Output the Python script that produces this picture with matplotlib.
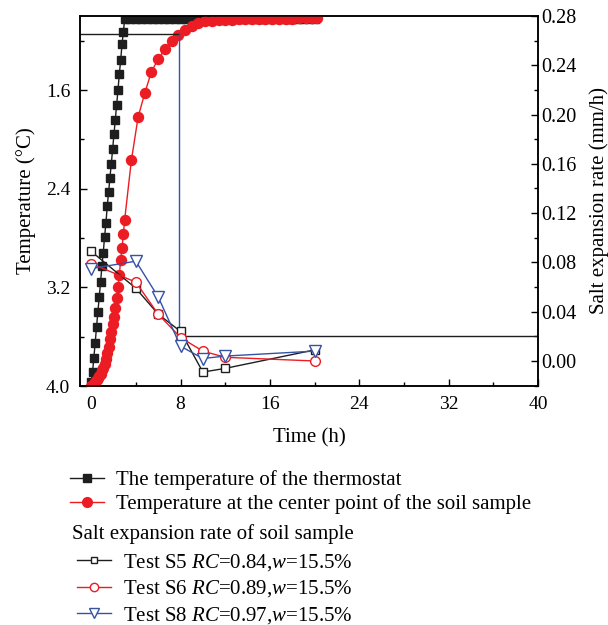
import matplotlib
matplotlib.use("Agg")
import matplotlib.pyplot as plt
from matplotlib.ticker import MultipleLocator, FormatStrFormatter
from matplotlib.lines import Line2D

plt.rcParams["font.family"] = ["Liberation Serif", "DejaVu Serif"]
plt.rcParams["mathtext.fontset"] = "custom"
plt.rcParams["mathtext.rm"] = "Liberation Serif"
plt.rcParams["mathtext.it"] = "Liberation Serif:italic"

# thermostat temperature (left axis, inverted)
t_thermo = [0.0, 0.12, 0.24, 0.36, 0.48, 0.6, 0.72, 0.84, 0.96, 1.08, 1.2, 1.32,
            1.44, 1.56, 1.68, 1.8, 1.92, 2.04, 2.16, 2.28, 2.4, 2.52, 2.64, 2.76,
            2.88, 3.0, 3.5, 4.0, 4.5, 5.0, 5.5, 6.0, 6.5, 7.0, 7.5, 8.0, 8.5, 9.0,
            9.5, 10.0, 10.5, 11.0, 11.5, 12.0, 12.5, 13.0, 13.5, 14.0, 14.5, 15.0,
            15.5, 16.0, 16.5, 17.0, 17.5, 18.0, 18.5, 19.0, 19.5, 20.0]
T_thermo = [3.97, 3.89, 3.77, 3.65, 3.52, 3.40, 3.28, 3.16, 3.03, 2.92, 2.79, 2.68,
            2.54, 2.43, 2.31, 2.20, 2.08, 1.96, 1.84, 1.72, 1.60, 1.47, 1.36, 1.23,
            1.13, 1.025, 1.023, 1.023, 1.023, 1.023, 1.023, 1.023, 1.023, 1.023,
            1.023, 1.023, 1.023, 1.023, 1.023, 1.023, 1.023, 1.023, 1.023, 1.023,
            1.023, 1.023, 1.023, 1.023, 1.023, 1.023, 1.023, 1.023, 1.023, 1.023,
            1.023, 1.023, 1.023, 1.023, 1.023, 1.023]

# temperature at the center point of the soil sample
t_center = [0.0, 0.12, 0.24, 0.36, 0.48, 0.6, 0.72, 0.84, 0.96, 1.08, 1.2, 1.32,
            1.44, 1.56, 1.68, 1.8, 1.92, 2.04, 2.16, 2.28, 2.4, 2.52, 2.64, 2.76,
            2.88, 3.0, 3.6, 4.2, 4.8, 5.4, 6.0, 6.6, 7.2, 7.8, 8.4, 9.0, 9.6, 10.2,
            10.8, 11.4, 12.0, 12.6, 13.2, 13.8, 14.4, 15.0, 15.6, 16.2, 16.8, 17.4,
            18.0, 18.6, 19.2, 19.8, 20.2]
T_center = [4.0, 3.99, 3.98, 3.965, 3.95, 3.935, 3.92, 3.90, 3.87, 3.85, 3.82, 3.78,
            3.73, 3.68, 3.62, 3.56, 3.50, 3.44, 3.37, 3.29, 3.20, 3.10, 2.98, 2.88,
            2.77, 2.65, 2.17, 1.82, 1.625, 1.45, 1.35, 1.27, 1.205, 1.15, 1.11, 1.08,
            1.057, 1.044, 1.038, 1.034, 1.031, 1.029, 1.027, 1.026, 1.025, 1.024,
            1.023, 1.022, 1.022, 1.021, 1.021, 1.02, 1.02, 1.02, 1.02]

# salt expansion rate (right axis)
t_salt = [0, 4, 6, 8, 10, 12, 20]
rate_s5 = [0.089, 0.059, 0.038, 0.024, -0.009, -0.006, 0.009]
rate_s6 = [0.079, 0.064, 0.038, 0.019, 0.008, 0.003, 0.0]
rate_s8 = [0.075, 0.081, 0.052, 0.012, 0.002, 0.004, 0.008]

# guide lines drawn in the original figure
guide_x = 7.9
guide_top = 0.265
guide_low = 0.02

black = "#1e1e1e"
red = "#ec1c24"
blue = "#3552a5"

fig = plt.figure(figsize=(6.08, 6.25), dpi=100)
ax = fig.add_axes([80 / 608, 1 - 386 / 625, 458 / 608, 370 / 625])
ax2 = ax.twinx()

ax.plot(t_thermo, T_thermo, "-s", color=black, ms=5.2, lw=1, zorder=2)
ax.plot(t_center, T_center, "-o", color=red, ms=7.2, lw=1, zorder=3)

ax2.plot([-1, guide_x], [guide_top, guide_top], color=black, lw=1)
ax2.plot([guide_x, guide_x], [guide_low, guide_top], color=blue, lw=1)
ax2.plot([guide_x, 40], [guide_low, guide_low], color=black, lw=1)

ax2.plot(t_salt, rate_s5, "-s", color=black, mfc="white", ms=6, mew=1, lw=1)
ax2.plot(t_salt, rate_s6, "-o", color=red, mfc="white", ms=7, mew=1, lw=1)
ax2.plot(t_salt, rate_s8, "-v", color=blue, mfc="white", ms=8, mew=1, lw=1)

ax.set_xlim(-1, 40)
ax.set_ylim(4.0, 1.0)
ax2.set_ylim(-0.0203, 0.28)

ax.xaxis.set_major_locator(MultipleLocator(8))
ax.xaxis.set_minor_locator(MultipleLocator(4))
ax.set_yticks([1.6, 2.4, 3.2, 4.0])
ax.yaxis.set_minor_locator(MultipleLocator(0.4))
ax.yaxis.set_major_formatter(FormatStrFormatter("%.1f"))
ax2.set_yticks([0.0, 0.04, 0.08, 0.12, 0.16, 0.20, 0.24, 0.28])
ax2.yaxis.set_minor_locator(MultipleLocator(0.02))
ax2.yaxis.set_major_formatter(FormatStrFormatter("%.2f"))

for a in (ax, ax2):
    a.tick_params(which="both", direction="in", labelsize=14, width=1)
    a.tick_params(which="major", length=5)
    a.tick_params(which="minor", length=3)
    for s in a.spines.values():
        s.set_linewidth(1.1)
ax.tick_params(axis="y", pad=7)
ax.tick_params(axis="x", pad=7)
ax2.tick_params(axis="y", pad=2, labelsize=14.5)

ax.set_xlabel("Time (h)", fontsize=15)
ax.xaxis.set_label_coords(0.5, -0.115)
ax.set_ylabel("Temperature (°C)", fontsize=15, va="center")
ax.yaxis.set_label_coords(-0.118, 0.5)
ax2.set_ylabel("Salt expansion rate (mm/h)", fontsize=15, va="center")
ax2.yaxis.set_label_coords(1.134, 0.5)

h1 = [Line2D([], [], color=black, marker="s", ms=5.2, lw=1),
      Line2D([], [], color=red, marker="o", ms=7, lw=1)]
fig.legend(h1, ["The temperature of the thermostat",
                "Temperature at the center point of the soil sample"],
           loc="upper left", bbox_to_anchor=(70 / 608, 1 - 470 / 625),
           frameon=False, fontsize=15, handlelength=1.65,
           handletextpad=0.55, labelspacing=0.2, borderpad=0,
           borderaxespad=0)
fig.text(72 / 608, 1 - 534 / 625, "Salt expansion rate of soil sample",
         fontsize=15, va="center", ha="left")
h2 = [Line2D([], [], color=black, marker="s", mfc="white", ms=5, lw=1),
      Line2D([], [], color=red, marker="o", mfc="white", ms=6, lw=1),
      Line2D([], [], color=blue, marker="v", mfc="white", ms=6.5, lw=1)]
fig.legend(h2, ["Test S5 $RC$=0.84,$w$=15.5%",
                "Test S6 $RC$=0.89,$w$=15.5%",
                "Test S8 $RC$=0.97,$w$=15.5%"],
           loc="upper left", bbox_to_anchor=(77 / 608, 1 - 552 / 625),
           frameon=False, fontsize=15, handlelength=1.65,
           handletextpad=0.55, labelspacing=0.27, borderpad=0,
           borderaxespad=0)

fig.savefig("out.png", dpi=100)
